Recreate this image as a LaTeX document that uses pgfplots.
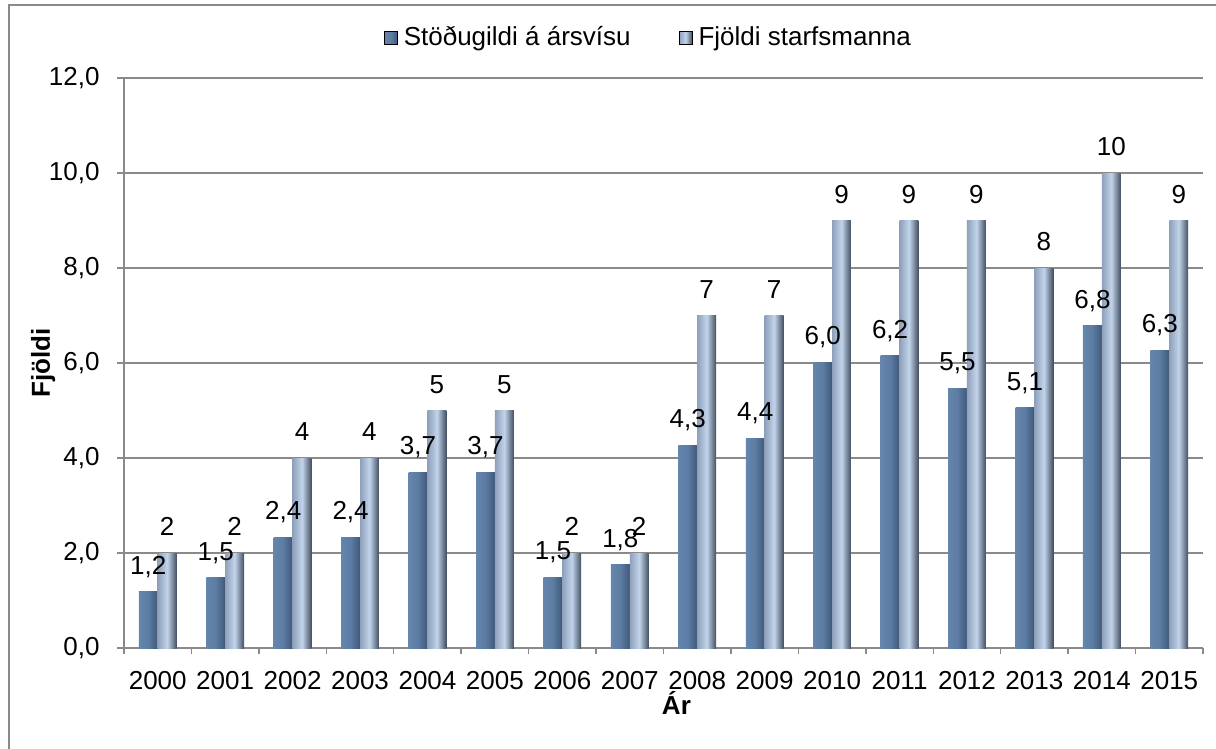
\documentclass[border=0pt]{standalone}
\usepackage{fontspec}
\setmainfont{Liberation Sans}
\usepackage{pgfplots}
\pgfplotsset{compat=1.18}

\definecolor{darkL}{HTML}{6685AC}
\definecolor{darkM}{HTML}{5C7CA3}
\definecolor{darkR}{HTML}{3F5878}
\definecolor{liteL}{HTML}{8FA1BA}
\definecolor{liteM}{HTML}{C2D4EB}
\definecolor{liteR}{HTML}{434F61}
\definecolor{gridgray}{HTML}{8A8A8A}

% one plot per bar, so that each bar gets its own shading
\pgfplotsset{
  dk/.style={ybar, bar width=0.28, bar shift=-0.14, draw=none,
    left color=darkL, right color=darkR, middle color=darkM, forget plot,
    point meta=explicit,
    nodes near coords={\pgfmathprintnumber[fixed,fixed zerofill,precision=1,use comma]{\pgfplotspointmeta}},
    every node near coord/.append style={xshift=-4.72pt}},
  lt/.style={ybar, bar width=0.28, bar shift=0.14, draw=none,
    left color=liteL, right color=liteR, middle color=liteM, forget plot,
    nodes near coords,
    every node near coord/.append style={xshift=4.72pt}},
}

\begin{document}
\fontsize{13}{15.6}\selectfont
\begin{tikzpicture}
\begin{axis}[
  at={(62pt,-324pt)}, anchor=south west,
  scale only axis, width=539.5pt, height=285pt,
  xmin=-0.5, xmax=15.5, ymin=0, ymax=12,
  axis x line*=bottom, axis y line*=left,
  axis line style={draw=gridgray, line width=0.7pt, -},
  tick align=outside,
  xtick={0,...,15},
  xticklabels={2000,2001,2002,2003,2004,2005,2006,2007,2008,2009,2010,2011,2012,2013,2014,2015},
  major x tick style={draw=none},
  minor xtick={-0.5,0.5,...,15.5},
  minor tick length=3pt,
  minor x tick style={draw=gridgray, line width=0.7pt},
  ytick={0,2,...,12},
  major tick length=3.5pt,
  y tick style={draw=gridgray, line width=0.7pt},
  ymajorgrids, grid style={draw=gridgray, line width=0.7pt},
  /pgf/number format/assume math mode=true,
  xticklabel style={anchor=north, inner sep=0pt, yshift=-8pt},
  yticklabel style={anchor=east, inner sep=0pt, xshift=-8.5pt,
    /pgf/number format/fixed, /pgf/number format/fixed zerofill,
    /pgf/number format/precision=1, /pgf/number format/use comma},
  ylabel={\bfseries Fjöldi},
  ylabel style={at={(axis description cs:-0.075,0.5)}, anchor=center},
  xlabel={\bfseries Ár},
  xlabel style={at={(axis description cs:0.512,-0.097)}, anchor=center},
  legend style={at={(axis description cs:0.487,1.07)}, anchor=center, draw=none,
    legend columns=2, /tikz/every even column/.append style={column sep=22pt},
    /tikz/every odd column/.append style={column sep=1pt}},
  every node near coord/.append style={anchor=south, inner sep=0pt, text depth=0pt, yshift=8.5pt, text=black},
  clip=false,
]
\addlegendimage{legend image code/.code={\shade[left color=darkL, right color=darkR, middle color=darkM] (0pt,-3pt) rectangle (6.5pt,3.5pt);}}
\addlegendentry{Stöðugildi á ársvísu}
\addlegendimage{legend image code/.code={\shade[left color=liteL, right color=liteR, middle color=liteM] (0pt,-3pt) rectangle (6.5pt,3.5pt);}}
\addlegendentry{Fjöldi starfsmanna}
% Stodugildi a arsvisu (bar height, [label])
\addplot[dk] coordinates {(0,1.18) [1.2]};
\addplot[dk] coordinates {(1,1.48) [1.5]};
\addplot[dk] coordinates {(2,2.33) [2.4]};
\addplot[dk] coordinates {(3,2.33) [2.4]};
\addplot[dk] coordinates {(4,3.70) [3.7]};
\addplot[dk] coordinates {(5,3.70) [3.7]};
\addplot[dk] coordinates {(6,1.49) [1.5]};
\addplot[dk] coordinates {(7,1.75) [1.8]};
\addplot[dk] coordinates {(8,4.27) [4.3]};
\addplot[dk] coordinates {(9,4.42) [4.4]};
\addplot[dk] coordinates {(10,6.02) [6.0]};
\addplot[dk] coordinates {(11,6.15) [6.2]};
\addplot[dk] coordinates {(12,5.47) [5.5]};
\addplot[dk] coordinates {(13,5.06) [5.1]};
\addplot[dk] coordinates {(14,6.78) [6.8]};
\addplot[dk] coordinates {(15,6.27) [6.3]};
% Fjoldi starfsmanna
\addplot[lt] coordinates {(0,2)};
\addplot[lt] coordinates {(1,2)};
\addplot[lt] coordinates {(2,4)};
\addplot[lt] coordinates {(3,4)};
\addplot[lt] coordinates {(4,5)};
\addplot[lt] coordinates {(5,5)};
\addplot[lt] coordinates {(6,2)};
\addplot[lt] coordinates {(7,2)};
\addplot[lt] coordinates {(8,7)};
\addplot[lt] coordinates {(9,7)};
\addplot[lt] coordinates {(10,9)};
\addplot[lt] coordinates {(11,9)};
\addplot[lt] coordinates {(12,9)};
\addplot[lt] coordinates {(13,8)};
\addplot[lt] coordinates {(14,10)};
\addplot[lt] coordinates {(15,9)};
\end{axis}
\draw[gridgray, line width=0.9pt] (4.5pt,-2.5pt) rectangle (640pt,-400pt);
\pgfresetboundingbox
\useasboundingbox (0,0) rectangle (608pt,-374.5pt);
\end{tikzpicture}
\end{document}
